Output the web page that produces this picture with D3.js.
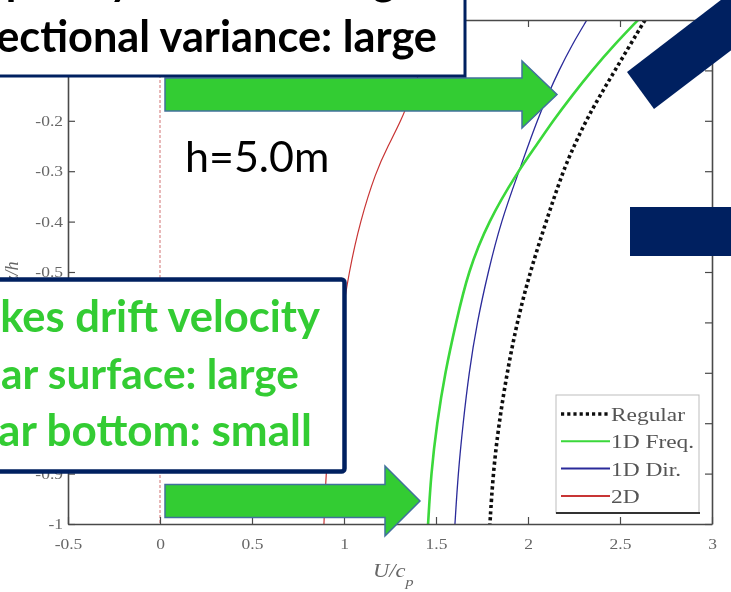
<!DOCTYPE html>
<html><head><meta charset="utf-8">
<script src="https://cdn.jsdelivr.net/npm/d3@7"></script>
<style>
html,body{margin:0;padding:0;background:#fff;}
svg{display:block;}
</style></head><body>
<svg id="c" width="731" height="592"></svg>
<script>
// Drift velocity profiles, h = 5.0 m: depth z/h against U/c_p
const depth    = [0, -0.05, -0.1, -0.15, -0.2, -0.25, -0.3, -0.4, -0.5, -0.6, -0.7, -0.8, -0.9, -1.0];
const regular  = [2.636, 2.554, 2.473, 2.391, 2.315, 2.250, 2.190, 2.098, 2.011, 1.940, 1.886, 1.842, 1.810, 1.793];
const freq1D   = [2.598, 2.467, 2.348, 2.239, 2.136, 2.043, 1.946, 1.783, 1.674, 1.609, 1.549, 1.505, 1.473, 1.457];
const dir1D    = [2.320, 2.238, 2.168, 2.106, 2.050, 2.000, 1.951, 1.853, 1.783, 1.723, 1.679, 1.647, 1.620, 1.603];
const spread2D = [1.522, 1.467, 1.413, 1.364, 1.310, 1.239, 1.174, 1.087, 1.027, 0.984, 0.951, 0.924, 0.902, 0.891];
const seriesNames = ["Regular", "1D Freq.", "1D Dir.", "2D"];
const xTicks = [-0.5, 0, 0.5, 1, 1.5, 2, 2.5, 3];
const yTicks = [0, -0.1, -0.2, -0.3, -0.4, -0.5, -0.6, -0.7, -0.8, -0.9, -1];
// y labels that sit under the callout boxes are left blank
const yLabelsShown = [-0.2, -0.3, -0.4, -0.5, -0.9, -1];

const svg = d3.select("#c");
const L = 68, R = 712, T = 20, B = 524;
const x = d3.scaleLinear().domain([-0.5, 3]).range([L, R]);
const y = d3.scaleLinear().domain([-1, 0]).range([B, T]);

const defs = svg.append("defs");
defs.append("filter").attr("id", "soft")
  .append("feGaussianBlur").attr("stdDeviation", 0.45);
defs.append("clipPath").attr("id", "plot")
  .append("rect").attr("x", L).attr("y", T).attr("width", R - L).attr("height", B - T);

const chart = svg.append("g").attr("filter", "url(#soft)");
const axisColor = "#4a4a4a";
const labelColor = "#666";
const serif = "'Liberation Serif','Times New Roman',serif";
const stretch = 1.25;   // figure text is drawn wide

// zero reference line
chart.append("line")
  .attr("x1", x(0)).attr("x2", x(0)).attr("y1", T).attr("y2", B)
  .attr("stroke", "#d07070").attr("stroke-width", 1).attr("stroke-dasharray", "3,2");

// profiles
const series = [
  {name: seriesNames[0], vals: regular,  color: "#111111", width: 3.6, dash: "3.2,3"},
  {name: seriesNames[1], vals: freq1D,   color: "#3ad83a", width: 2.6, dash: null},
  {name: seriesNames[2], vals: dir1D,    color: "#2a2a9a", width: 1.3, dash: null},
  {name: seriesNames[3], vals: spread2D, color: "#c83434", width: 1.2, dash: null}
];
const line = d3.line()
  .x(d => x(d[0])).y(d => y(d[1]))
  .curve(d3.curveBasis);
const plotG = chart.append("g").attr("clip-path", "url(#plot)");
series.slice().reverse().forEach(s => {
  plotG.append("path")
    .datum(s.vals.map((u, i) => [u, depth[i]]))
    .attr("d", line)
    .attr("fill", "none")
    .attr("stroke", s.color)
    .attr("stroke-width", s.width)
    .attr("stroke-dasharray", s.dash);
});

// box axes with inward ticks
const fmt = d => String(d);
const axB = chart.append("g").attr("transform", `translate(0,${B})`)
  .call(d3.axisBottom(x).tickValues(xTicks).tickFormat(fmt).tickSizeInner(-7).tickSizeOuter(0).tickPadding(15));
const axT = chart.append("g").attr("transform", `translate(0,${T})`)
  .call(d3.axisTop(x).tickValues(xTicks).tickFormat("").tickSizeInner(-7).tickSizeOuter(0));
const axL = chart.append("g").attr("transform", `translate(${L},0)`)
  .call(d3.axisLeft(y).tickValues(yTicks)
    .tickFormat(d => yLabelsShown.some(v => Math.abs(v - d) < 1e-9) ? fmt(d) : "")
    .tickSizeInner(-7).tickSizeOuter(0).tickPadding(4));
const axR = chart.append("g").attr("transform", `translate(${R},0)`)
  .call(d3.axisRight(y).tickValues(yTicks).tickFormat("").tickSizeInner(-7).tickSizeOuter(0));
[axB, axT, axL, axR].forEach(a => {
  a.select(".domain").attr("stroke", axisColor).attr("stroke-width", 1.6);
  a.selectAll(".tick line").attr("stroke", axisColor).attr("stroke-width", 1.2);
  a.selectAll("text").attr("fill", labelColor).attr("font-family", serif).attr("font-size", 14)
    .attr("transform", `scale(${stretch},1)`);
});

// axis titles
const xt = chart.append("text")
  .attr("transform", `translate(373,577) scale(${stretch},1)`)
  .attr("font-family", serif).attr("font-style", "italic").attr("font-size", 18).attr("fill", labelColor);
xt.append("tspan").text("U/c");
xt.append("tspan").attr("dy", 9).attr("font-size", 13).text("p");
chart.append("text")
  .attr("transform", `translate(18,${(T + B) / 2}) rotate(-90)`)
  .attr("text-anchor", "middle")
  .attr("font-family", serif).attr("font-style", "italic").attr("font-size", 18).attr("fill", labelColor)
  .text("z/h");

// legend
const lg = chart.append("g");
lg.append("rect").attr("x", 556).attr("y", 395).attr("width", 143).attr("height", 118)
  .attr("fill", "#fff").attr("stroke", "#bdbdbd").attr("stroke-width", 1);
lg.append("line").attr("x1", 556).attr("x2", 700).attr("y1", 513).attr("y2", 513)
  .attr("stroke", "#333").attr("stroke-width", 2);
series.forEach((s, i) => {
  const yy = 414 + i * 27.3;
  lg.append("line").attr("x1", 561).attr("x2", 610).attr("y1", yy).attr("y2", yy)
    .attr("stroke", s.color).attr("stroke-width", i === 0 ? 3.6 : 2)
    .attr("stroke-dasharray", s.dash);
  lg.append("text").attr("transform", `translate(611,${yy + 7}) scale(1.2,1)`)
    .attr("font-family", serif).attr("font-size", 19.5).attr("fill", "#555")
    .text(s.name);
});

// slide annotations on top of the chart
const navy = "#002060", lime = "#33cc33", arrowEdge = "#41719c";
const sans = "Lato, 'Open Sans', sans-serif";

function arrow(x0, x1, x2, cy, bodyH, headH) {
  const p = [[x0, cy - bodyH / 2], [x1, cy - bodyH / 2], [x1, cy - headH / 2], [x2, cy],
             [x1, cy + headH / 2], [x1, cy + bodyH / 2], [x0, cy + bodyH / 2]];
  svg.append("path").attr("d", "M" + p.map(q => q.join(",")).join("L") + "Z")
    .attr("fill", lime).attr("stroke", arrowEdge).attr("stroke-width", 1.5);
}
arrow(165, 522, 557, 94.5, 33, 67);
arrow(165, 385, 420, 501, 33, 70);

// right-aligned text sized so that the character at index ci starts at xs
function fitText(sel, xs, xe, ci, f0) {
  const node = sel.node();
  const n = node.getNumberOfChars();
  const w = node.getSubStringLength(ci, n - ci);
  sel.attr("font-size", f0 * (xe - xs) / w);
}

// top callout
svg.append("rect").attr("x", -10).attr("y", -12).attr("width", 475).attr("height", 88)
  .attr("fill", "#fff").attr("stroke", navy).attr("stroke-width", 3);
const topA = svg.append("text").attr("x", 437).attr("y", 52).attr("text-anchor", "end")
  .attr("font-family", sans).attr("font-weight", 700).attr("font-size", 42).attr("fill", "#000")
  .text("Directional variance: large");
fitText(topA, -4, 437, 3, 42);
svg.append("text").attr("x", 418).attr("y", -5).attr("text-anchor", "end")
  .attr("font-family", sans).attr("font-weight", 700).attr("font-size", topA.attr("font-size")).attr("fill", "#000")
  .text("Frequency variance: large");

svg.append("text").attr("x", 185).attr("y", 172)
  .attr("font-family", sans).attr("font-size", 43).attr("fill", "#000")
  .text("h=5.0m");

// stokes drift callout
svg.append("rect").attr("x", -10).attr("y", 279.5).attr("width", 354.5).attr("height", 192)
  .attr("rx", 3).attr("fill", "#fff").attr("stroke", navy).attr("stroke-width", 4.5);
const greenLines = [["Stokes drift velocity", 320, 332, 3, 0], ["Near surface: large", 299, 389, 2, 1], ["Near bottom: small", 312, 446, 2, -2]];
greenLines.forEach(([t, xe, yb, ci, xs]) => {
  const tx = svg.append("text").attr("x", xe).attr("y", yb).attr("text-anchor", "end")
    .attr("font-family", sans).attr("font-weight", 700).attr("font-size", 43).attr("fill", lime)
    .text(t);
  fitText(tx, xs, xe, ci, 43);
});

// navy shapes at right edge
svg.append("path").attr("d", "M627,72L654,109L800,-2L773,-40Z").attr("fill", navy);
svg.append("rect").attr("x", 630).attr("y", 207).attr("width", 120).attr("height", 49).attr("fill", navy);
</script>
</body></html>
